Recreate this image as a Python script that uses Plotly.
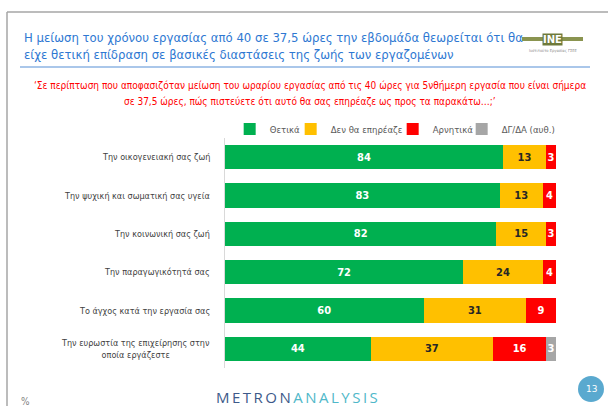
import plotly.graph_objects as go

W, H = 608, 406
L, R, T, B = 225, 52, 138, 38
PW, PH = W - L - R, H - T - B

categories = [
    "Την οικογενειακή σας ζωή",
    "Την ψυχική και σωματική σας υγεία",
    "Την κοινωνική σας ζωή",
    "Την παραγωγικότητά σας",
    "Το άγχος κατά την εργασία σας",
    "Την ευρωστία της επιχείρησης στην<br>οποία εργάζεστε",
]
positive = [84, 83, 82, 72, 60, 44]
no_effect = [13, 13, 15, 24, 31, 37]
negative = [3, 4, 3, 4, 9, 16]
dk_na = [0, 0, 0, 0, 0, 3]

# name, values, bar colour, value-label colour, legend entry width (px)
series = [
    ("Θετικά", positive, "#00B050", "white", 10),
    ("Δεν θα επηρέαζε", no_effect, "#FFC000", "#262626", 51),
    ("Αρνητικά", negative, "#FF0000", "white", 18),
    ("ΔΓ/ΔΑ (αυθ.)", dk_na, "#A6A6A6", "white", None),
]

title_text = ("Η μείωση του χρόνου εργασίας από 40 σε 37,5 ώρες την εβδομάδα θεωρείται ότι θα<br>"
              "είχε θετική επίδραση σε βασικές διαστάσεις της ζωής των εργαζομένων")
question_lines = [
    "‘Σε περίπτωση που αποφασιζόταν μείωση του ωραρίου εργασίας από τις 40 ώρες για 5νθήμερη εργασία που είναι σήμερα",
    "σε 37,5 ώρες, πώς πιστεύετε ότι αυτό θα σας επηρέαζε ως προς τα παρακάτω…;’",
]

NARROW = "Liberation Sans Narrow, DejaVu Sans Condensed, Arial Narrow, sans-serif"


def px(x):
    return (x - L) / PW


def py(y):
    return (H - B - y) / PH


fig = go.Figure()
for name, vals, color, tcolor, lw in series:
    fig.add_trace(go.Bar(
        y=categories, x=vals, name=name, orientation="h",
        marker=dict(color=color, line=dict(width=0)),
        text=[f"<b>{v}</b>" if v else "" for v in vals],
        textposition="inside", insidetextanchor="middle",
        textfont=dict(color=tcolor, size=11, family=NARROW),
        constraintext="none", cliponaxis=False,
        legendwidth=lw,
        hoverinfo="skip",
    ))

annotations = []
# Category labels, each line centred, block right-aligned next to the axis
for c in categories:
    annotations.append(dict(
        x=px(212), xref="paper", y=c, yref="y", xanchor="right", yanchor="middle",
        text=c, showarrow=False, align="center",
        font=dict(size=9, color="#3F3F3F", family=NARROW),
    ))

annotations += [
    dict(x=px(22), y=py(46), xref="paper", yref="paper", xanchor="left", yanchor="middle",
         text=title_text, showarrow=False, align="left",
         font=dict(size=13, color="#2E78D2", family=NARROW)),
    dict(x=px(310), y=py(85), xref="paper", yref="paper", xanchor="center", yanchor="middle",
         text=question_lines[0], showarrow=False,
         font=dict(size=10, color="#FF0000", family=NARROW)),
    dict(x=px(310), y=py(101), xref="paper", yref="paper", xanchor="center", yanchor="middle",
         text=question_lines[1], showarrow=False,
         font=dict(size=10, color="#FF0000", family=NARROW)),
    dict(x=px(297), y=py(397), xref="paper", yref="paper", xanchor="center", yanchor="middle",
         text=("<span style='color:#3D5A8A'>M\u2009E\u2009T\u2009R\u2009O\u2009N\u2009</span>"
               "<span style='color:#4FB8C9'>A\u2009N\u2009A\u2009L\u2009Y\u2009S\u2009I\u2009S</span>"),
         showarrow=False, font=dict(size=15, family="Open Sans, sans-serif")),
    dict(x=px(591), y=py(389), xref="paper", yref="paper", xanchor="center", yanchor="middle",
         text="13", showarrow=False, font=dict(size=9, color="white", family="DejaVu Sans")),
    dict(x=px(25), y=py(401), xref="paper", yref="paper", xanchor="center", yanchor="middle",
         text="%", showarrow=False, font=dict(size=10, color="#7F7F7F", family=NARROW)),
    dict(x=px(552), y=py(39), xref="paper", yref="paper", xanchor="center", yanchor="middle",
         text="<b>INE</b>", showarrow=False, font=dict(size=10, color="white", family="DejaVu Sans"),
         bgcolor="#6E7A3A", borderpad=0),
    dict(x=px(553), y=py(50), xref="paper", yref="paper", xanchor="center", yanchor="middle",
         text="Ινστιτούτο Εργασίας ΓΣΕΕ", showarrow=False,
         font=dict(size=4, color="#8C8C8C", family=NARROW)),
]

shapes = [
    # page frame
    dict(type="line", xref="paper", yref="paper", x0=px(7), x1=px(608), y0=py(12), y1=py(12),
         line=dict(color="#A6A6A6", width=1.5)),
    dict(type="line", xref="paper", yref="paper", x0=px(7), x1=px(7), y0=py(12), y1=py(406),
         line=dict(color="#A6A6A6", width=1.5)),
    # title underline
    dict(type="line", xref="paper", yref="paper", x0=px(20), x1=px(590), y0=py(67), y1=py(67),
         line=dict(color="#8EB4E3", width=1.5)),
    # logo stroke
    dict(type="line", xref="paper", yref="paper", x0=px(522), x1=px(583), y0=py(39), y1=py(39),
         line=dict(color="#8A9450", width=4), layer="below"),
    # page-number badge
    dict(type="circle", xref="paper", yref="paper", x0=px(578), x1=px(604), y0=py(376), y1=py(402),
         fillcolor="#5AA9CF", line=dict(width=0)),
]

fig.update_layout(
    width=W, height=H,
    margin=dict(l=L, r=R, t=T, b=B, autoexpand=False),
    barmode="stack", bargap=0.37,
    plot_bgcolor="white", paper_bgcolor="white",
    showlegend=True,
    legend=dict(orientation="h", x=-0.004, y=py(129), xanchor="left", yanchor="middle",
                font=dict(size=9.5, color="#595959", family=NARROW),
                itemwidth=30, indentation=6, traceorder="normal", bgcolor="rgba(0,0,0,0)"),
    uniformtext=dict(minsize=11, mode="show"),
    xaxis=dict(range=[0, 100], visible=False, fixedrange=True),
    yaxis=dict(autorange="reversed", showticklabels=False, showgrid=False, zeroline=False,
               showline=True, linecolor="#D9D9D9", linewidth=1, ticks=""),
    annotations=annotations, shapes=shapes,
)

fig.write_html("out.html")
